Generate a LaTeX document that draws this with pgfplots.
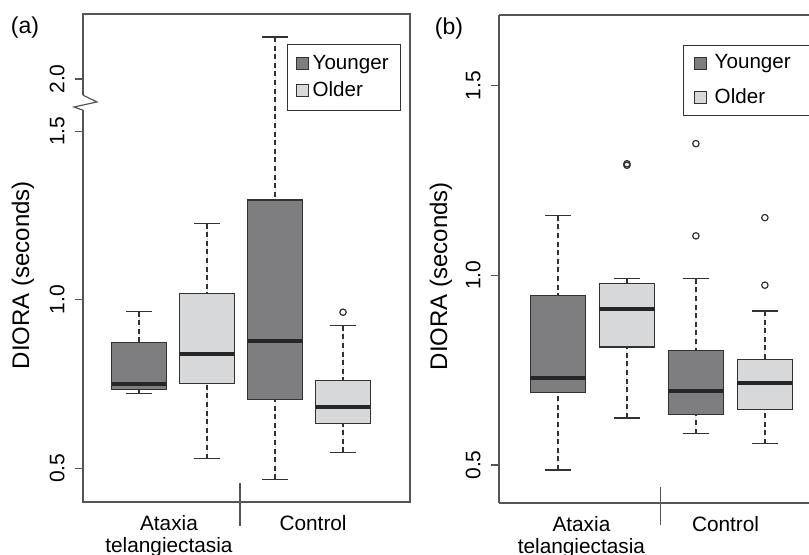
\documentclass[border=0pt]{standalone}
\usepackage{fontspec}
\setmainfont{Liberation Sans}
\usepackage{pgfplots}
\pgfplotsset{compat=1.18}
\usepgfplotslibrary{statistics}

\definecolor{young}{RGB}{126,126,129}
\definecolor{old}{RGB}{215,216,218}
\definecolor{edgec}{RGB}{50,50,50}
\definecolor{axgray}{RGB}{85,85,85}

% R-style whiskers: dashed stem, solid staple
\pgfplotsset{
  /pgfplots/boxplot/draw/lower whisker/.code={%
    \draw[edgec, line width=0.65pt, dash pattern=on 2.5pt off 1.8pt]
      (boxplot box cs:\pgfplotsboxplotvalue{lower whisker},0.5) --
      (boxplot box cs:\pgfplotsboxplotvalue{lower quartile},0.5);
    \draw[edgec, line width=0.65pt]
      (boxplot whisker cs:\pgfplotsboxplotvalue{lower whisker},0) --
      (boxplot whisker cs:\pgfplotsboxplotvalue{lower whisker},1);
  },
  /pgfplots/boxplot/draw/upper whisker/.code={%
    \draw[edgec, line width=0.65pt, dash pattern=on 2.5pt off 1.8pt]
      (boxplot box cs:\pgfplotsboxplotvalue{upper whisker},0.5) --
      (boxplot box cs:\pgfplotsboxplotvalue{upper quartile},0.5);
    \draw[edgec, line width=0.65pt]
      (boxplot whisker cs:\pgfplotsboxplotvalue{upper whisker},0) --
      (boxplot whisker cs:\pgfplotsboxplotvalue{upper whisker},1);
  },
}

\pgfplotsset{
  rpanel/.style={
    scale only axis, height=244pt,
    clip=false,
    axis line style={-, draw=axgray, line width=0.6pt},
    ytick style={draw=axgray, line width=0.6pt},
    major tick length=4pt,
    tick align=outside,
    ytick pos=left, xtick pos=left,
    major x tick style={draw=none},
    yticklabel style={rotate=90, anchor=south, inner ysep=5pt,
      font=\fontsize{10.5}{12}\selectfont},
    xticklabel style={align=center, anchor=north, inner ysep=2.5pt,
      font=\fontsize{10.4}{11}\selectfont},
    every axis y label/.style={rotate=90, anchor=center,
      font=\fontsize{12}{14}\selectfont},
    legend cell align=left,
    legend style={draw=edgec, line width=0.6pt, anchor=north west,
      font=\fontsize{10.3}{12}\selectfont},
    boxplot/draw direction=y,
    boxplot/box extend=0.8,
    boxplot/whisker extend=0.37,
    boxplot/every box/.style={draw=edgec, line width=0.65pt},
    boxplot/every median/.style={draw=black!85, line width=2pt},
  },
  legsq/.style={legend image code/.code={%
    \draw[draw=edgec, line width=0.5pt, fill=#1] (0pt,-3pt) rectangle (6pt,3pt);}},
  outl/.style={mark=o, mark size=1.6pt, mark options={draw=edgec, line width=0.6pt, fill=none}},
}

\begin{document}
\begin{tikzpicture}
\path[use as bounding box] (0,0) rectangle (404.5pt,277.5pt);

% panel (a): the part above 1.5 is drawn on a compressed scale (axis break)
\begin{axis}[rpanel,
  at={(41.5pt,26.5pt)}, anchor=south west, width=163.5pt,
  xmin=0.176, xmax=4.985, ymin=0.4, ymax=1.848,
  ytick={0.5,1.0,1.5,1.655}, yticklabels={0.5,1.0,1.5,2.0},
  xtick={1.44,3.56}, xticklabels={Ataxia\\telangiectasia,Control},
  ylabel={DIORA (seconds)},
  every axis y label/.append style={at={(axis description cs:-0.1835,0.465)}},
  legend style={at={(axis description cs:0.624,0.939)},
    inner xsep=4pt, inner ysep=3.5pt, row sep=0.5pt},
]
\addlegendimage{legsq=young}
\addlegendentry{Younger}
\addlegendimage{legsq=old}
\addlegendentry{Older}

\addplot[fill=young, draw=edgec, outl, boxplot prepared={draw position=1,
  lower whisker=0.721, lower quartile=0.734, median=0.749,
  upper quartile=0.873, upper whisker=0.965}] coordinates {};
\addplot[fill=old, draw=edgec, outl, boxplot prepared={draw position=2,
  lower whisker=0.529, lower quartile=0.752, median=0.838,
  upper quartile=1.018, upper whisker=1.226}] coordinates {};
\addplot[fill=young, draw=edgec, outl, boxplot prepared={draw position=3,
  lower whisker=0.467, lower quartile=0.704, median=0.879,
  upper quartile=1.296, upper whisker=1.780}] coordinates {};
\addplot[fill=old, draw=edgec, outl, boxplot prepared={draw position=4,
  lower whisker=0.547, lower quartile=0.632, median=0.681,
  upper quartile=0.760, upper whisker=0.923}] table[row sep=\\, y index=0] {
  0.963\\
};

% group separator
\draw[axgray, line width=0.6pt] (axis cs:2.485,0.455) -- (axis cs:2.485,0.330);
% axis break
\draw[white, line width=2pt] (axis cs:0.176,1.607) -- (axis cs:0.176,1.5625);
\draw[axgray, line width=0.6pt] (axis cs:0.176,1.607) -- (axis cs:0.382,1.587)
  -- (axis cs:0.044,1.572) -- (axis cs:0.176,1.5625);
\end{axis}

% panel (b): its right-hand frame line lies beyond the picture
\begin{axis}[rpanel,
  at={(249.5pt,26pt)}, anchor=south west, width=155pt,
  axis x line*=box, axis y line*=left,
  xmin=0.145, xmax=4.64, ymin=0.4, ymax=1.686,
  ytick={0.5,1.0,1.5}, yticklabels={0.5,1.0,1.5},
  xtick={1.34,3.43}, xticklabels={Ataxia\\telangiectasia,Control},
  ylabel={DIORA (seconds)},
  every axis y label/.append style={at={(axis description cs:-0.187,0.465)}},
  legend style={at={(axis description cs:0.594,0.9385)},
    inner xsep=5pt, inner ysep=2.5pt, row sep=4.5pt},
]
\addlegendimage{legsq=young}
\addlegendentry{\hspace*{2pt}Younger\hspace*{4pt}}
\addlegendimage{legsq=old}
\addlegendentry{\hspace*{2pt}Older}

\addplot[fill=young, draw=edgec, outl, boxplot prepared={draw position=1,
  lower whisker=0.487, lower quartile=0.692, median=0.730,
  upper quartile=0.947, upper whisker=1.157}] coordinates {};
\addplot[fill=old, draw=edgec, outl, boxplot prepared={draw position=2,
  lower whisker=0.624, lower quartile=0.811, median=0.912,
  upper quartile=0.978, upper whisker=0.991}] table[row sep=\\, y index=0] {
  1.290\\ 1.294\\
};
\addplot[fill=young, draw=edgec, outl, boxplot prepared={draw position=3,
  lower whisker=0.583, lower quartile=0.633, median=0.695,
  upper quartile=0.802, upper whisker=0.991}] table[row sep=\\, y index=0] {
  1.347\\ 1.104\\
};
\addplot[fill=old, draw=edgec, outl, boxplot prepared={draw position=4,
  lower whisker=0.556, lower quartile=0.647, median=0.716,
  upper quartile=0.778, upper whisker=0.906}] table[row sep=\\, y index=0] {
  1.152\\ 0.974\\
};

\draw[axgray, line width=0.6pt] (axis cs:2.49,0.443) -- (axis cs:2.49,0.343);
\end{axis}

\node[font=\fontsize{11.5}{13}\selectfont] at (12.5pt,263.5pt) {(a)};
\node[font=\fontsize{11.5}{13}\selectfont] at (224.5pt,263pt) {(b)};
\end{tikzpicture}
\end{document}
